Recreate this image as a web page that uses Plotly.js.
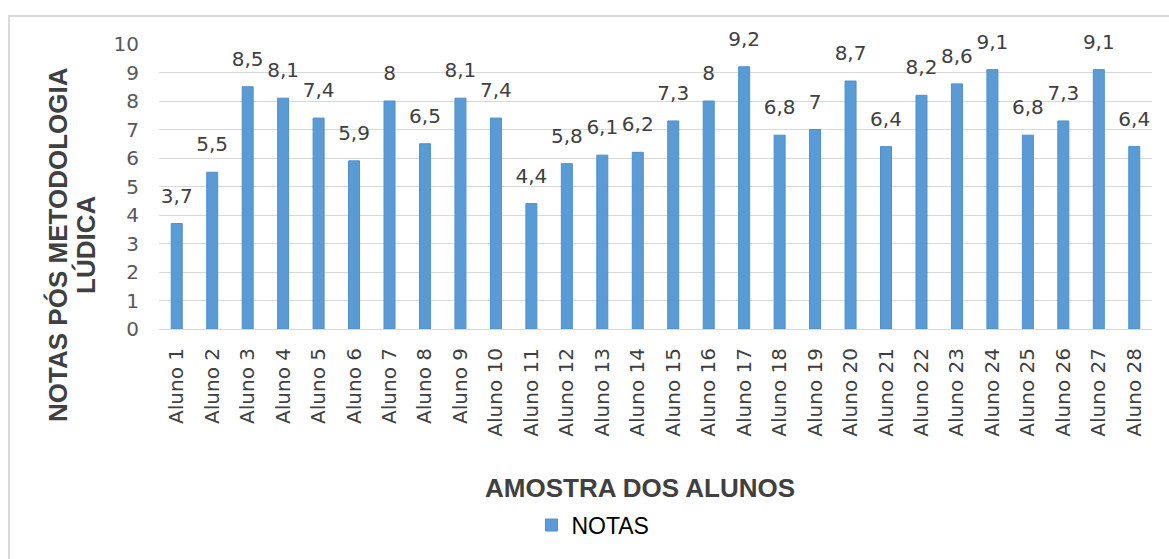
<!DOCTYPE html>
<html><head><meta charset="utf-8">
<script src="https://cdn.plot.ly/plotly-3.0.1.min.js"></script>
<style>html,body{margin:0;padding:0;background:#fff;overflow:hidden}
#frame{position:absolute;left:8px;top:15px;width:1170px;height:560px;border:2px solid #d9d9d9;box-sizing:border-box;pointer-events:none}
#c{width:1169px;height:559px}</style>
</head><body>
<div id="c"></div><div id="frame"></div>
<script>
const categories = ["Aluno 1","Aluno 2","Aluno 3","Aluno 4","Aluno 5","Aluno 6","Aluno 7","Aluno 8","Aluno 9","Aluno 10","Aluno 11","Aluno 12","Aluno 13","Aluno 14","Aluno 15","Aluno 16","Aluno 17","Aluno 18","Aluno 19","Aluno 20","Aluno 21","Aluno 22","Aluno 23","Aluno 24","Aluno 25","Aluno 26","Aluno 27","Aluno 28"];
const notas = [3.7,5.5,8.5,8.1,7.4,5.9,8,6.5,8.1,7.4,4.4,5.8,6.1,6.2,7.3,8,9.2,6.8,7,8.7,6.4,8.2,8.6,9.1,6.8,7.3,9.1,6.4];
const seriesName = "NOTAS";
const yTicks = [0,1,2,3,4,5,6,7,8,9,10];

const labels = notas.map(v => String(v).replace('.', ','));
const F = "'Liberation Sans', Arial, sans-serif";
const D = "'DejaVu Sans', sans-serif";
const bars = {
  type: 'bar', x: categories, y: notas, name: seriesName,
  marker: {color: '#5B9BD5', line: {color: '#4F8FCB', width: 1}},
  width: 0.31, hoverinfo: 'x+y'
};
const texts = {
  type: 'scatter', mode: 'markers+text', x: categories, y: notas, showlegend: false,
  marker: {size: 24, opacity: 0, color: '#fff'},
  text: labels, textposition: 'top center', cliponaxis: false,
  textfont: {family: D, size: 20, color: '#404040'}, hoverinfo: 'skip'
};
const layout = {
  width: 1169, height: 559,
  margin: {l: 159, r: 17, t: 44, b: 230},
  paper_bgcolor: '#fff', plot_bgcolor: '#fff',
  font: {family: D, color: '#595959'},
  showlegend: true,
  legend: {orientation: 'h', x: 0.437, xanchor: 'center', y: -0.688, yanchor: 'middle',
    font: {family: F, size: 23, color: '#000'}, itemwidth: 30},
  xaxis: {type: 'category', range: [-0.5, categories.length - 0.5], autorange: false,
    tickangle: -90, tickfont: {family: D, size: 20, color: '#404040'},
    showgrid: false, showline: true, linecolor: '#d9d9d9', linewidth: 1, ticks: '', ticklen: 0,
    ticklabelstandoff: 10, fixedrange: true},
  yaxis: {range: [0, 10], autorange: false, tickvals: yTicks, ticktext: yTicks.map(String),
    tickfont: {family: D, size: 20, color: '#595959'}, gridcolor: '#d9d9d9', gridwidth: 1,
    zeroline: false, showline: false, ticks: '', ticklabelstandoff: 19, fixedrange: true},
  bargap: 0.69,
  annotations: [
    {text: '<b>AMOSTRA DOS ALUNOS</b>', xref: 'paper', yref: 'paper', x: 0.484, y: -0.558,
     xanchor: 'center', yanchor: 'middle', showarrow: false,
     font: {family: F, size: 26, color: '#404040'}},
    {text: '<b>NOTAS PÓS METODOLOGIA</b>', xref: 'paper', yref: 'paper', x: (58-159)/993, y: 0.295,
     xanchor: 'center', yanchor: 'middle', showarrow: false, textangle: -90,
     font: {family: F, size: 26, color: '#404040'}},
    {text: '<b>LÚDICA</b>', xref: 'paper', yref: 'paper', x: (86-159)/993, y: 0.295,
     xanchor: 'center', yanchor: 'middle', showarrow: false, textangle: -90,
     font: {family: F, size: 26, color: '#404040'}}
  ]
};
Plotly.newPlot('c', [bars, texts], layout, {displayModeBar: false, staticPlot: true});
</script>
</body></html>
